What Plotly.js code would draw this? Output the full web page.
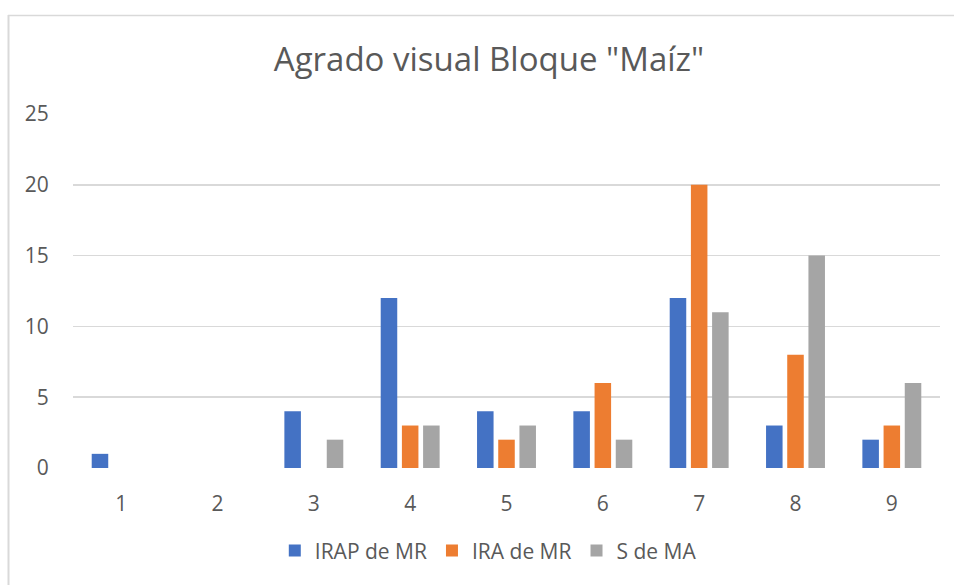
<!DOCTYPE html>
<html>
<head>
<meta charset="utf-8">
<script src="https://cdn.plot.ly/plotly-3.0.1.min.js"></script>
<style>html,body{margin:0;padding:0;background:#fff;}#chart{width:954px;height:585px;}</style>
</head>
<body>
<div id="chart"></div>
<script>
const categories = ["1","2","3","4","5","6","7","8","9"];
const seriesNames = ["IRAP de MR", "IRA de MR", "S de MA"];
const irapDeMR = [1, 0, 4, 12, 4, 4, 12, 3, 2];
const iraDeMR  = [0, 0, 0, 3, 2, 6, 20, 8, 3];
const sDeMA    = [0, 0, 2, 3, 3, 2, 11, 15, 6];
const colors = ["#4472C4", "#ED7D31", "#A5A5A5"];
const yTicks = [0, 5, 10, 15, 20, 25];

const font = "'Open Sans', 'Noto Sans', sans-serif";
const values = [irapDeMR, iraDeMR, sDeMA];
const traces = values.map((v, i) => ({
  type: "bar",
  x: categories,
  y: v,
  name: seriesNames[i],
  marker: { color: colors[i], line: { width: 0 } },
  hoverinfo: "skip"
}));

const layout = {
  width: 954, height: 585,
  margin: { l: 73, r: 14, t: 114, b: 117 },
  paper_bgcolor: "#fff", plot_bgcolor: "#fff",
  barmode: "group",
  bargap: 0.34,
  bargroupgap: 0.22,
  font: { family: font, color: "#595959", size: 21 },
  title: {
    text: 'Agrado visual Bloque "Maíz"',
    font: { family: font, size: 33, color: "#595959" },
    xref: "container", yref: "container",
    x: 0.5126, y: 0.898, xanchor: "center", yanchor: "middle"
  },
  xaxis: {
    type: "category",
    showgrid: false, zeroline: false, showline: false,
    ticks: "outside", ticklen: 17, tickcolor: "rgba(0,0,0,0)",
    tickfont: { family: font, size: 21, color: "#595959" },
    fixedrange: true
  },
  yaxis: {
    range: [0, 25],
    tickvals: yTicks,
    showgrid: true, gridcolor: "#d9d9d9", gridwidth: 1.5,
    zeroline: false, showline: false,
    ticks: "outside", ticklen: 19, tickcolor: "rgba(0,0,0,0)",
    tickfont: { family: font, size: 21, color: "#595959" },
    fixedrange: true
  },
  showlegend: true,
  legend: {
    orientation: "h",
    x: 0.479, xanchor: "center",
    y: -0.234, yanchor: "middle",
    font: { family: font, size: 21, color: "#595959" },
    itemsizing: "constant"
  },
  shapes: [
    { type: "line", xref: "paper", yref: "paper",
      x0: (8.5 - 73) / 867, x1: (8.5 - 73) / 867,
      y0: (468 - 15) / 354, y1: (468 - 600) / 354,
      line: { color: "#d9d9d9", width: 2 } },
    { type: "line", xref: "paper", yref: "paper",
      x0: (8 - 73) / 867, x1: (960 - 73) / 867,
      y0: (468 - 15.5) / 354, y1: (468 - 15.5) / 354,
      line: { color: "#d9d9d9", width: 1.5 } }
  ]
};

Plotly.newPlot("chart", traces, layout, { displayModeBar: false, staticPlot: true });
</script>
</body>
</html>
